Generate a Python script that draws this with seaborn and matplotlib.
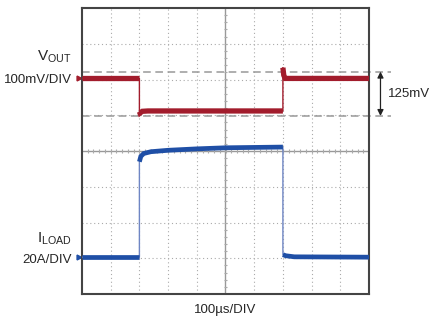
import numpy as np
import pandas as pd
import matplotlib
matplotlib.use("Agg")
import matplotlib.pyplot as plt
import seaborn as sns

# ---- data (divisions) ----
v_time = [0.0, 2.0, 2.0, 2.02, 2.1, 2.3, 7.0, 7.0, 7.03, 7.08, 7.2, 10.0]
v_level = [6.03, 6.03, 5.10, 5.06, 5.11, 5.12, 5.12, 6.33, 6.12, 6.03, 6.03, 6.03]

i_time = [0.0, 2.0, 2.0, 2.05, 2.15, 2.4, 3.0, 4.0, 5.0, 6.0, 7.0, 7.0, 7.1, 7.4, 10.0]
i_level = [1.03, 1.03, 3.70, 3.85, 3.93, 3.98, 4.02, 4.06, 4.09, 4.10, 4.11, 1.10, 1.07, 1.04, 1.03]

dash_levels = [6.22, 4.98]
delta_label = "125mV"

red = "#a21c2c"
blue = "#1f4fa6"

sns.set_style("white")
plt.rcParams['font.family'] = ['Liberation Sans', 'DejaVu Sans']
plt.rcParams['mathtext.fontset'] = 'custom'
plt.rcParams['mathtext.rm'] = 'Liberation Sans'

fig = plt.figure(figsize=(4.35, 3.26), dpi=100)
ax = fig.add_axes([82/435, 32/326, 287/435, 286/326])
ax.set_xlim(0, 10)
ax.set_ylim(0, 8)

grid_c = "#aaaaaa"
for k in range(1, 10):
    if k != 5:
        ax.axvline(k, color=grid_c, lw=0.8, ls=(0, (1, 2.5)), zorder=0)
for k in range(1, 8):
    if k != 4:
        ax.axhline(k, color=grid_c, lw=0.8, ls=(0, (1, 2.5)), zorder=0)
ax.axvline(5, color="#999999", lw=1.0, zorder=0)
ax.axhline(4, color="#999999", lw=1.0, zorder=0)
mt = np.arange(0.2, 10, 0.2)
ax.hlines(mt[mt < 8], 4.94, 5.06, color="#aaaaaa", lw=0.8, zorder=0)
ax.vlines(mt, 3.95, 4.05, color="#aaaaaa", lw=0.8, zorder=0)

for lv in dash_levels:
    ax.plot([0, 10.75], [lv, lv], color="#999999", lw=1.1, ls=(0, (5, 3)),
            clip_on=False, zorder=1)

def build(t, y, name):
    df = pd.DataFrame({"t": t, "y": y})
    df["trace"] = name
    return df

vdf = build(v_time, v_level, "V")
idf = build(i_time, i_level, "I")

# thin full traces (including transitions)
sns.lineplot(data=vdf, x="t", y="y", color=red, lw=1.0, estimator=None,
             sort=False, ax=ax, zorder=3)
sns.lineplot(data=idf, x="t", y="y", color="#6f86c4", lw=1.0, estimator=None,
             sort=False, ax=ax, zorder=3)

# thick noisy-looking flat segments
def segments(t, y):
    seg = 0
    segs = [0]
    for k in range(1, len(t)):
        if t[k] == t[k - 1]:
            seg += 1
        segs.append(seg)
    df = pd.DataFrame({"t": t, "y": y, "seg": segs})
    return df

vs = segments(v_time, v_level)
is_ = segments(i_time, i_level)
sns.lineplot(data=vs, x="t", y="y", units="seg", estimator=None, sort=False,
             color=red, lw=3.8, ax=ax, zorder=4, solid_capstyle="butt",
             solid_joinstyle="miter")
sns.lineplot(data=is_, x="t", y="y", units="seg", estimator=None, sort=False,
             color=blue, lw=3.4, ax=ax, zorder=4, solid_capstyle="butt",
             solid_joinstyle="miter")

ax.set_xlabel("")
ax.set_ylabel("")
ax.set_xticks([])
ax.set_yticks([])
for s in ax.spines.values():
    s.set_visible(True)
    s.set_color("#444444")
    s.set_linewidth(1.5)

# left labels
fs = 9.5
ax.text(-0.35, 6.55, r"V$_{\mathrm{OUT}}$", ha="right", va="baseline", fontsize=fs + 1.5,
        transform=ax.transData, clip_on=False)
ax.text(-0.35, 5.9, "100mV/DIV", ha="right", va="baseline", fontsize=fs, clip_on=False)
ax.plot([-0.12], [v_level[0]], marker=">", color=red, ms=3.5, clip_on=False)
ax.text(-0.35, 1.45, r"I$_{\mathrm{LOAD}}$", ha="right", va="baseline", fontsize=fs + 1.5,
        clip_on=False)
ax.text(-0.35, 0.88, "20A/DIV", ha="right", va="baseline", fontsize=fs, clip_on=False)
ax.plot([-0.12], [i_level[0]], marker=">", color=blue, ms=3.5, clip_on=False)

# right delta annotation
ax.annotate("", xy=(10.4, dash_levels[0]), xytext=(10.4, dash_levels[1]),
            arrowprops=dict(arrowstyle="<|-|>", color="#222222", lw=0.9,
                            mutation_scale=9, shrinkA=0, shrinkB=0),
            annotation_clip=False)
ax.text(10.65, sum(dash_levels) / 2, delta_label, ha="left", va="center",
        fontsize=fs, clip_on=False)

ax.text(5, -0.28, "100µs/DIV", ha="center", va="top", fontsize=fs, clip_on=False)

fig.savefig("out.png", dpi=100)
